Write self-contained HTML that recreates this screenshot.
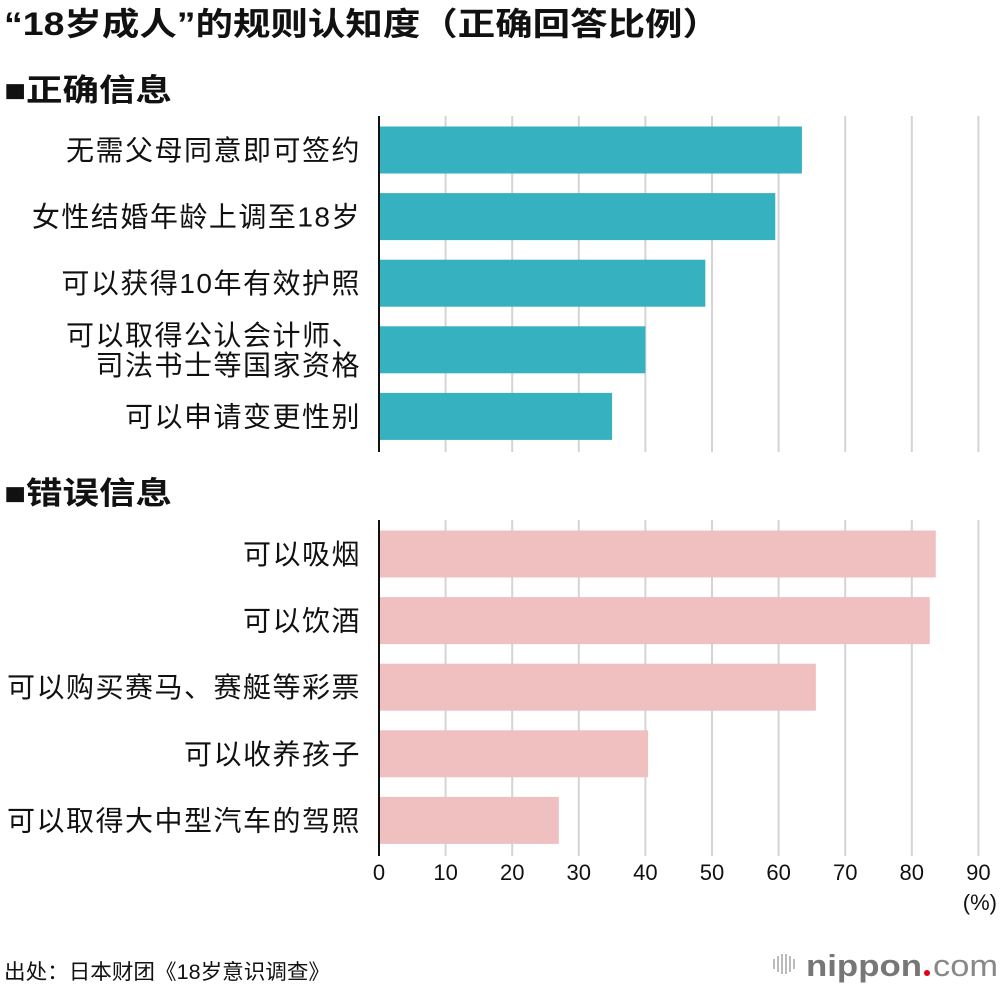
<!DOCTYPE html>
<html><head><meta charset="utf-8"><style>
body{margin:0;background:#fff;}
svg text{font-family:"Liberation Sans","Noto Sans CJK SC",sans-serif;}
</style></head><body>
<svg id="chart" width="1000" height="990" viewBox="0 0 1000 990" xmlns="http://www.w3.org/2000/svg">
<text x="4" y="35" font-size="32" font-weight="bold" fill="#111" textLength="716" lengthAdjust="spacingAndGlyphs">“18岁成人”的规则认知度（正确回答比例）</text>
<text x="4" y="101" font-size="31" font-weight="bold" fill="#111" textLength="168" lengthAdjust="spacingAndGlyphs">■正确信息</text>
<text x="4" y="504" font-size="31" font-weight="bold" fill="#111" textLength="168" lengthAdjust="spacingAndGlyphs">■错误信息</text>
<g id="grid"></g>
<g id="bars"></g>
<g id="ticks"></g>
<text x="997" y="910" font-size="22" text-anchor="end" fill="#111">(%)</text>
<text x="4" y="979" font-size="21" fill="#111" textLength="326" lengthAdjust="spacingAndGlyphs">出处：日本财团《18岁意识调查》</text>
<g>
<g fill="#bbb"><rect x="773" y="959" width="2" height="10"/><rect x="777" y="956" width="2" height="16"/><rect x="781" y="954" width="2" height="20"/><rect x="785" y="954" width="2" height="20"/><rect x="789" y="956" width="2" height="16"/><rect x="793" y="959" width="2" height="10"/></g>
<text x="806" y="976" font-size="31" font-weight="bold" fill="#777" textLength="116" lengthAdjust="spacingAndGlyphs">nippon</text>
<circle cx="927" cy="973" r="3" fill="#e60012"/>
<text x="933" y="976" font-size="31" fill="#888" textLength="65" lengthAdjust="spacingAndGlyphs">com</text>
</g>
</svg>
<script>
const correctLabels=[["无需父母同意即可签约"],["女性结婚年龄上调至18岁"],["可以获得10年有效护照"],["可以取得公认会计师、","司法书士等国家资格"],["可以申请变更性别"]];
const correctValues=[63.5,59.5,49,40,35];
const wrongLabels=[["可以吸烟"],["可以饮酒"],["可以购买赛马、赛艇等彩票"],["可以收养孩子"],["可以取得大中型汽车的驾照"]];
const wrongValues=[83.6,82.7,65.6,40.4,27];
const ticks=[0,10,20,30,40,50,60,70,80,90];
const NS="http://www.w3.org/2000/svg";
const x0=379,pxPer=6.66;
function xs(v){return x0+v*pxPer;}
function mk(tag,attrs,parent){const e=document.createElementNS(NS,tag);for(const k in attrs)e.setAttribute(k,attrs[k]);parent.appendChild(e);return e;}
const grid=document.getElementById('grid'),bars=document.getElementById('bars'),tk=document.getElementById('ticks');
ticks.forEach((t,i)=>{
 if(i>0){
  [[116,452],[520,856]].forEach(r=>{
   const l=mk('line',{x1:xs(t),x2:xs(t),y1:r[0],y2:r[1],stroke:'#d4d4d4','stroke-width':2},grid);
   
   
  });
 }
 const tx=mk('text',{x:xs(t),y:880,'font-size':22,'text-anchor':'middle',fill:'#111'},tk);
 tx.textContent=t;
 
 
});
function group(labels,values,top,color,axisTop,axisBot){
 const ax=mk('line',{x1:x0,x2:x0,y1:axisTop,y2:axisBot,stroke:'#111','stroke-width':2},bars);
 
 
 values.forEach((v,i)=>{
  const y=top+i*66.6;
  const r=mk('rect',{x:x0+1,y:y,width:xs(v)-x0-1,height:47,fill:color},bars);
  
  
  const lines=labels[i];
  lines.forEach((s,j)=>{
   const cy=y+23.5+(j-(lines.length-1)/2)*30+10;
   const t=mk('text',{x:361,y:cy,'font-size':28,'letter-spacing':1.5,'text-anchor':'end',fill:'#111'},bars);
   t.textContent=s;
   
   
  });
 });
}
group(correctLabels,correctValues,126.5,'#35b1bf',116,452);
group(wrongLabels,wrongValues,530.5,'#f0c0c0',520,856);
</script>
</body></html>
